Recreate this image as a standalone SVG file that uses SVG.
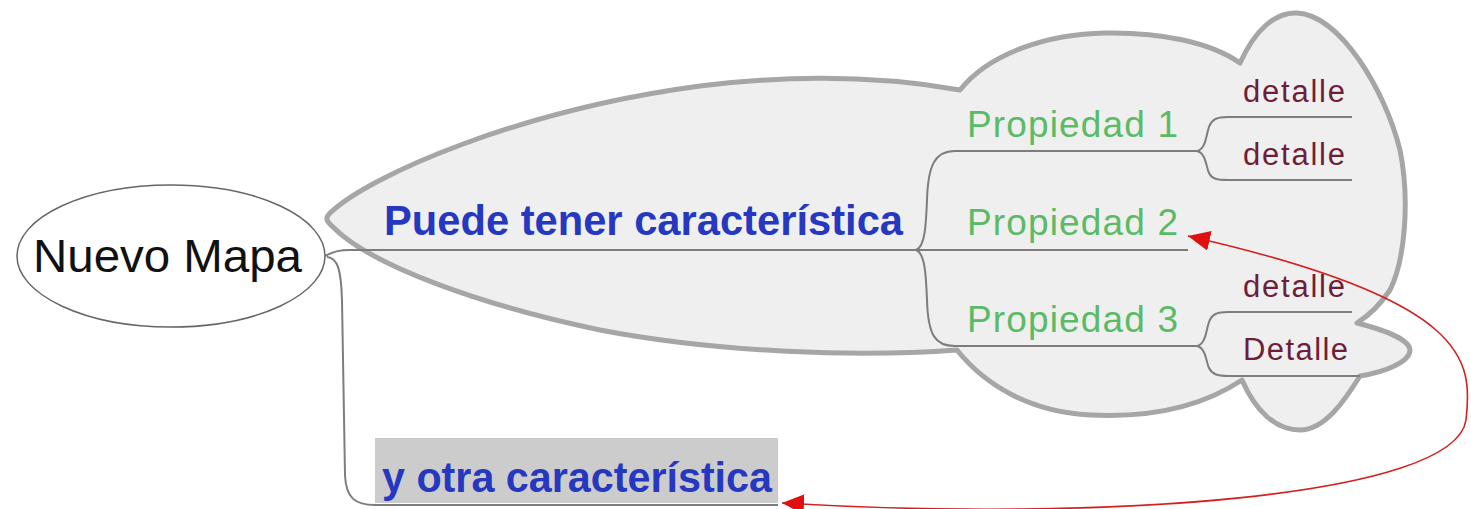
<svg xmlns="http://www.w3.org/2000/svg" width="1471" height="509" viewBox="0 0 1471 509">
<style>
.conn{fill:none;stroke:#7d7d7d;stroke-width:2}
.main{font-family:"Liberation Sans",Arial,sans-serif;font-weight:bold;font-size:42px;fill:#2638c0}
.prop{font-family:"Liberation Sans",Arial,sans-serif;font-size:37px;fill:#5abb66}
.det{font-family:"Liberation Sans",Arial,sans-serif;font-size:31px;fill:#6e1e38}
.root{font-family:"Liberation Sans",Arial,sans-serif;font-size:47px;fill:#111}
.rel{fill:none;stroke:#d42020;stroke-width:1.6}
</style>
<defs>
<marker id="ah" markerUnits="userSpaceOnUse" markerWidth="24" markerHeight="22" refX="22" refY="10" orient="auto-start-reverse">
<path d="M0,0 L22,10 L0,20 z" fill="#e01010"/>
</marker>
</defs>
<g id="boundary">
<path d="M 330 213 C 370 175 520 110 700 86 C 790 75 880 76 960 90 C 990 52 1050 34 1105 33 C 1160 32 1210 42 1240 63 C 1255 30 1275 12 1297 13 C 1340 15 1385 90 1400 150 C 1410 200 1405 260 1390 290 C 1380 305 1368 316 1357 323 C 1385 330 1410 340 1410 350 C 1410 362 1385 372 1360 376 C 1345 400 1325 430 1300 430 C 1275 430 1255 410 1242 380 C 1200 408 1150 418 1090 415 C 1030 412 985 385 957 350 C 860 357 720 353 600 330 C 480 305 370 265 333 227 C 326 221 325 218 330 213 Z" fill="#efefef" stroke="#a6a6a6" stroke-width="5" stroke-linejoin="round"/>
</g>
<g id="connectors">
<path class="conn" d="M 325 256 C 335 251 340 250 350 250 H 1188"/>
<path class="conn" d="M 327 257 C 338 258 341 270 342 300 L 345 475 C 346 498 355 505 375 505 H 778"/>
<path class="conn" d="M 916 250 C 925 247 926 225 927 200 C 928 165 935 151 955 151 H 1199"/>
<path class="conn" d="M 916 250 C 925 253 926 275 927 300 C 928 335 935 346 955 346 H 1199"/>
<path class="conn" d="M 1197 151 C 1206 149 1206 135 1209 127 C 1212 119 1217 117 1228 117 H 1352"/>
<path class="conn" d="M 1197 151 C 1206 153 1206 167 1209 173 C 1212 179 1217 180 1228 180 H 1352"/>
<path class="conn" d="M 1197 346 C 1206 344 1206 330 1209 322 C 1212 314 1217 312 1228 312 H 1352"/>
<path class="conn" d="M 1197 346 C 1206 348 1206 362 1209 368 C 1212 374 1217 376 1228 376 H 1360"/>
<path class="rel" marker-start="url(#ah)" marker-end="url(#ah)" d="M 782 503 C 1100 522 1455 498 1466 420 C 1473 360 1470 300 1188 236"/>
</g>
<g id="root">
<ellipse cx="171" cy="256" rx="154" ry="71" fill="#fff" stroke="#666" stroke-width="1.5"/>
<text class="root" x="33" y="272" textLength="269" lengthAdjust="spacingAndGlyphs">Nuevo Mapa</text>
</g>
<g id="puede">
<text class="main" x="384" y="235" textLength="519" lengthAdjust="spacingAndGlyphs">Puede tener característica</text>
</g>
<g id="otra">
<rect x="375" y="438" width="403" height="65" fill="#cccccc"/>
<text class="main" x="382" y="492" textLength="390" lengthAdjust="spacingAndGlyphs">y otra característica</text>
</g>
<g id="prop1"><text class="prop" x="967" y="137" textLength="211" lengthAdjust="spacing">Propiedad 1</text></g>
<g id="prop2"><text class="prop" x="967" y="235" textLength="211" lengthAdjust="spacing">Propiedad 2</text></g>
<g id="prop3"><text class="prop" x="967" y="332" textLength="211" lengthAdjust="spacing">Propiedad 3</text></g>
<g id="det1"><text class="det" x="1243" y="102" textLength="102" lengthAdjust="spacing">detalle</text></g>
<g id="det2"><text class="det" x="1243" y="165" textLength="102" lengthAdjust="spacing">detalle</text></g>
<g id="det3"><text class="det" x="1243" y="297" textLength="102" lengthAdjust="spacing">detalle</text></g>
<g id="det4"><text class="det" x="1243" y="360" textLength="105" lengthAdjust="spacing">Detalle</text></g>
</svg>
